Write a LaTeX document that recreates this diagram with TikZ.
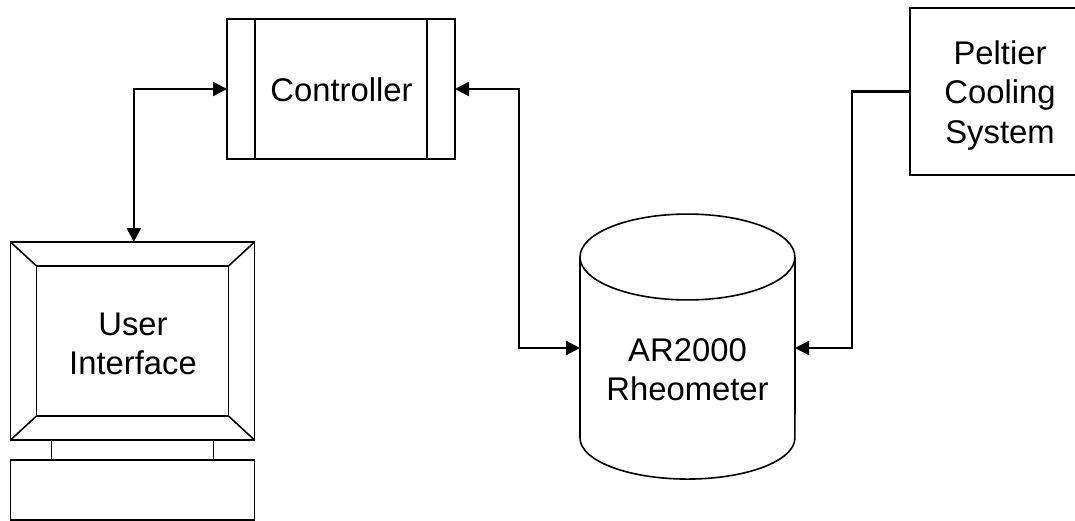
\documentclass[tikz,border=0pt]{standalone}
\usepackage{fontspec}
\setmainfont{Liberation Sans}
\usetikzlibrary{arrows.meta}
\begin{document}
\begin{tikzpicture}[x=0.75pt,y=-0.75pt,
box/.style={draw,line width=1.2pt,inner sep=0pt,outer sep=0pt},
boxtext/.style={inner sep=0pt,align=center,font=\fontsize{24.6}{29.5}\selectfont},
link/.style={line width=1.8pt,-{Triangle[length=10.5pt,width=10.5pt]}},
both/.style={line width=1.8pt,{Triangle[length=10.5pt,width=10.5pt]}-{Triangle[length=10.5pt,width=10.5pt]}}]
\useasboundingbox (0,0) rectangle (1075,521);
\node [box,minimum width=228*0.75pt,minimum height=140*0.75pt] (ctrl) at (341,89) {};
\node [boxtext] (ctrltext) at (341.5,90) {Controller};
\draw [line width=1.2pt] ([xshift=21pt]ctrl.north west)--([xshift=21pt]ctrl.south west)
([xshift=-21pt]ctrl.north east)--([xshift=-21pt]ctrl.south east);
\node [box,minimum width=244*0.75pt,minimum height=198*0.75pt] (mon) at (132.5,341) {};
\node [box,minimum width=192*0.75pt,minimum height=150*0.75pt] (screen) at (132.5,341) {};
\node [boxtext] (screentext) at (133,344) {User\\Interface};
\draw [line width=1.2pt] (mon.north west)--(screen.north west) (mon.north east)--(screen.north east)
(mon.south west)--(screen.south west) (mon.south east)--(screen.south east);
\node [box,minimum width=244*0.75pt,minimum height=60*0.75pt] (base) at (132.5,490) {};
\draw [line width=1.2pt] ([xshift=-60.75pt]mon.south)--([xshift=-60.75pt]base.north)
([xshift=60.75pt]mon.south)--([xshift=60.75pt]base.north);
\node [box,draw=none,minimum width=215*0.75pt,minimum height=265*0.75pt] (rheo) at (687.5,348) {};
\draw [line width=1.2pt] (580,257) arc (180:-180:80.6pt and 32.2pt)
(580,257)--(580,438) arc (180:360:80.6pt and 30.8pt)--(795,257);
\node [boxtext] (rheotext) at (687.5,369.5) {AR2000\\Rheometer};
\node [box,minimum width=180*0.75pt,minimum height=167*0.75pt] (pelt) at (1000,91.5) {};
\node [boxtext] (pelttext) at (1000,95.5) {Peltier\\Cooling\\System};
\draw [both] (ctrl.west)-|([xshift=1pt]mon.north);
\draw [both] (ctrl.east)--++(64,0)|-(rheo.west);
\draw [link] (pelt.west)--++(-58,0)|-(rheo.east);
\end{tikzpicture}
\end{document}
